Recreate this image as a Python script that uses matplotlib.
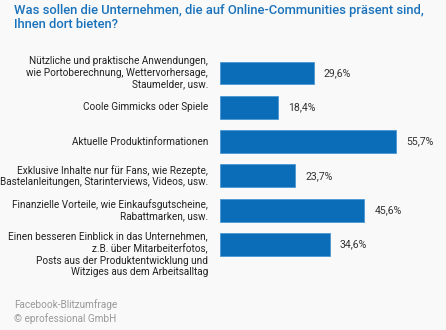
import matplotlib
matplotlib.use("Agg")
import matplotlib.pyplot as plt

categories = [
    "Nützliche und praktische Anwendungen,\nwie Portoberechnung, Wettervorhersage,\nStaumelder, usw.",
    "Coole Gimmicks oder Spiele",
    "Aktuelle Produktinformationen",
    "Exklusive Inhalte nur für Fans, wie Rezepte,\nBastelanleitungen, Starinterviews, Videos, usw.",
    "Finanzielle Vorteile, wie Einkaufsgutscheine,\nRabattmarken, usw.",
    "Einen besseren Einblick in das Unternehmen,\nz.B. über Mitarbeiterfotos,\nPosts aus der Produktentwicklung und\nWitziges aus dem Arbeitsalltag",
]
values = [29.6, 18.4, 55.7, 23.7, 45.6, 34.6]
value_labels = ["29,6%", "18,4%", "55,7%", "23,7%", "45,6%", "34,6%"]
title = "Was sollen die Unternehmen, die auf Online-Communities präsent sind,\nIhnen dort bieten?"
footer = "Facebook-Blitzumfrage\n© eprofessional GmbH"

W, H = 446, 330
bg = "#f9f9f9"
fig = plt.figure(figsize=(W / 100, H / 100), dpi=100, facecolor=bg)
plt.rcParams["font.family"] = ["Roboto", "DejaVu Sans"]

ax_left, ax_right = 220, 430
top_px, bot_px = 55.85, 261.65
ax = fig.add_axes([ax_left / W, 1 - bot_px / H, (ax_right - ax_left) / W, (bot_px - top_px) / H])
ax.set_facecolor(bg)
px_per_unit = 3.165
ax.set_xlim(0, (ax_right - ax_left) / px_per_unit)
n = len(values)
ax.set_ylim(n - 0.5, -0.5)
ys = list(range(n))
ax.barh(ys, values, height=0.67, color="#0b6db8", edgecolor="#4a97d4", linewidth=0.6)
for y, v, lab in zip(ys, values, value_labels):
    ax.text(v + 10 / px_per_unit, y, lab, va="center", ha="left", fontsize=7.6, color="#333333")
for y, cat in zip(ys, categories):
    if cat.count("\n") >= 3:
        ax.text(-12 / px_per_unit, y - 0.38, cat, va="top", ha="right", fontsize=7.2,
                color="#222222", linespacing=1.2, multialignment="right")
    else:
        ax.text(-12 / px_per_unit, y, cat, va="center", ha="right", fontsize=7.2,
                color="#222222", linespacing=1.2, multialignment="right")
ax.axis("off")

fig.text(14 / W, 1 - 4 / H, title, ha="left", va="top", fontsize=9.4, color="#1a72bb",
         fontweight="medium", linespacing=1.15)
fig.text(14 / W, 1 - 299 / H, footer, ha="left", va="top", fontsize=7.2, color="#999999",
         linespacing=1.35)

fig.savefig("out.png", dpi=100, facecolor=bg)
